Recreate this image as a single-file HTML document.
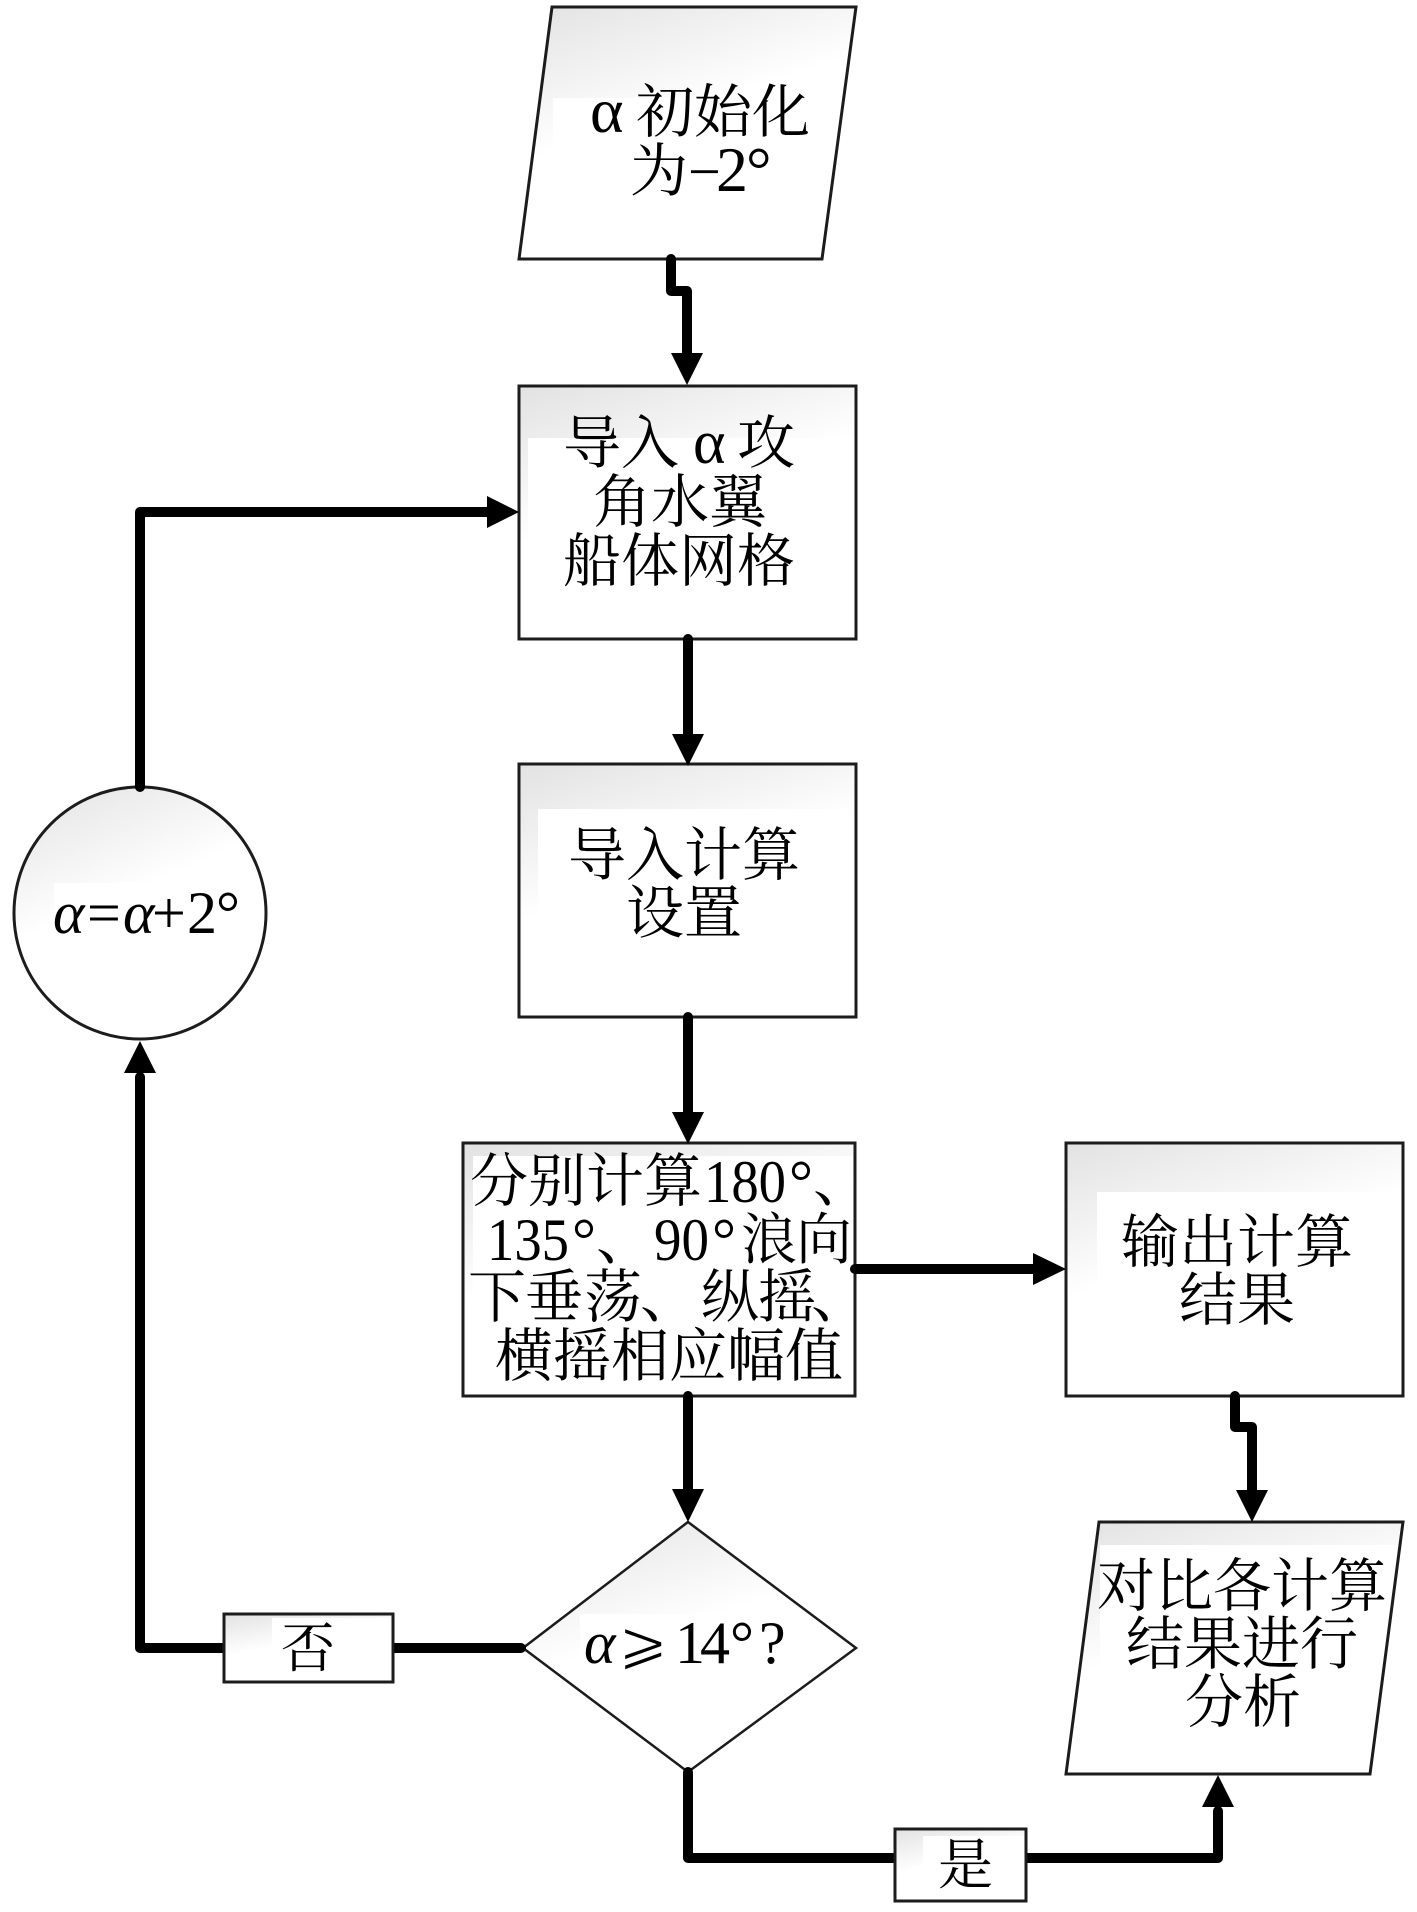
<!DOCTYPE html>
<html><head><meta charset="utf-8"><style>
html,body{margin:0;padding:0;background:#fff;width:1417px;height:1912px;overflow:hidden}
svg{display:block}
text{font-family:"Liberation Serif","Noto Serif CJK SC",serif;font-size:58px;fill:#000}
.s{fill:none;stroke:#1c1c1c;stroke-width:3}
.c{fill:none;stroke:#000;stroke-width:10;stroke-linejoin:round;stroke-linecap:round}
</style></head><body>
<svg xmlns="http://www.w3.org/2000/svg" width="1417" height="1912" viewBox="0 0 1417 1912">
<defs>
<linearGradient id="g" x1="0" y1="0" x2="0.3" y2="0.7"><stop offset="0" stop-color="#e2e2e2"/><stop offset="0.75" stop-color="#fff"/></linearGradient>
<clipPath id="p1"><polygon points="552,7 856,7 822,259 519,259"/></clipPath>
<clipPath id="p6"><polygon points="1099,1522 1403,1522 1370,1774 1066,1774"/></clipPath>
<clipPath id="ci"><circle cx="140" cy="913" r="126"/></clipPath>
<clipPath id="di"><polygon points="688,1522 856,1648 688,1772 523,1648"/></clipPath>
</defs>
<rect width="1417" height="1912" fill="#fff"/>

<!-- shapes -->
<polygon points="552,7 856,7 822,259 519,259" fill="url(#g)"/>
<rect x="553" y="98" width="300" height="68" fill="#fff" clip-path="url(#p1)"/>
<polygon class="s" points="552,7 856,7 822,259 519,259"/>

<rect x="519" y="386" width="337" height="253" fill="url(#g)"/>
<rect x="528" y="438" width="326" height="199" fill="#fff"/>
<rect class="s" x="519" y="386" width="337" height="253"/>

<rect x="519" y="764" width="337" height="253" fill="url(#g)"/>
<rect x="538" y="809" width="316" height="206" fill="#fff"/>
<rect class="s" x="519" y="764" width="337" height="253"/>

<rect x="463" y="1143" width="392" height="253" fill="url(#g)"/>
<rect x="473" y="1156" width="380" height="238" fill="#fff"/>
<rect class="s" x="463" y="1143" width="392" height="253"/>

<rect x="1066" y="1143" width="337" height="253" fill="url(#g)"/>
<rect x="1097" y="1192" width="304" height="202" fill="#fff"/>
<rect class="s" x="1066" y="1143" width="337" height="253"/>

<polygon points="1099,1522 1403,1522 1370,1774 1066,1774" fill="url(#g)"/>
<rect x="1100" y="1545" width="300" height="125" fill="#fff" clip-path="url(#p6)"/>
<polygon class="s" points="1099,1522 1403,1522 1370,1774 1066,1774"/>

<circle cx="140" cy="913" r="126" fill="url(#g)"/>
<rect x="54" y="883" width="200" height="68" fill="#fff" clip-path="url(#ci)"/>
<circle class="s" cx="140" cy="913" r="126"/>

<polygon points="688,1522 856,1648 688,1772 523,1648" fill="url(#g)"/>
<rect x="580" y="1614" width="220" height="60" fill="#fff" clip-path="url(#di)"/>
<polygon class="s" style="stroke-width:2.5" points="688,1522 856,1648 688,1772 523,1648"/>

<!-- connectors -->
<path class="c" d="M671 259V291H687V358"/>
<polygon points="671,353 703,353 687,385"/>
<path class="c" d="M688 639V738"/>
<polygon points="672,734 704,734 688,766"/>
<path class="c" d="M688 1017V1116"/>
<polygon points="672,1112 704,1112 688,1144"/>
<path class="c" d="M688 1396V1492"/>
<polygon points="672,1489 704,1489 688,1522"/>
<path class="c" d="M855 1269H1037"/>
<polygon points="1033,1253 1033,1285 1066,1269"/>
<path class="c" d="M1235 1396V1427H1252V1494"/>
<polygon points="1236,1490 1268,1490 1252,1522"/>
<path class="c" d="M140 787V512H491"/>
<polygon points="487,496 487,528 519,512"/>
<path class="c" d="M521 1648H140V1077"/>
<polygon points="124,1073 156,1073 140,1041"/>
<path class="c" d="M688 1772V1858H1218V1811"/>
<polygon points="1202,1807 1234,1807 1218,1775"/>

<!-- label boxes -->
<rect x="224" y="1614" width="169" height="68" fill="url(#g)"/>
<rect x="272" y="1618" width="119" height="62" fill="#fff"/>
<rect class="s" x="224" y="1614" width="169" height="68"/>
<rect x="895" y="1829" width="131" height="72" fill="url(#g)"/>
<rect x="923" y="1836" width="101" height="63" fill="#fff"/>
<rect class="s" x="895" y="1829" width="131" height="72"/>

<!-- text -->
<text y="132"><tspan x="590" style="font-size:64px">α</tspan><tspan x="636">初始化</tspan></text>
<text y="191"><tspan x="630">为</tspan><tspan x="688">−</tspan><tspan x="716" style="font-size:64px">2</tspan><tspan x="746" style="font-size:64px">°</tspan></text>

<text y="463"><tspan x="563">导入</tspan><tspan x="693" style="font-size:62px">α</tspan><tspan x="737">攻</tspan></text>
<text y="522" x="593">角水翼</text>
<text y="581" x="563">船体网格</text>

<text y="875" x="568">导入计算</text>
<text y="933" x="626">设置</text>

<text y="1201" x="470">分别计算</text>
<text y="1202" x="704" textLength="82" lengthAdjust="spacingAndGlyphs" style="font-size:60px">180</text>
<text y="1202" x="789" style="font-size:60px">°</text>
<text y="1201" x="813">、</text>

<text y="1260" x="487" textLength="82" lengthAdjust="spacingAndGlyphs" style="font-size:60px">135</text>
<text y="1260" x="572" style="font-size:60px">°</text>
<text y="1259" x="596">、</text>
<text y="1260" x="654" textLength="55" lengthAdjust="spacingAndGlyphs" style="font-size:60px">90</text>
<text y="1260" x="712" style="font-size:60px">°</text>
<text y="1259" style="font-size:56px"><tspan x="741">浪</tspan><tspan x="796">向</tspan></text>

<text y="1317"><tspan x="468">下</tspan><tspan x="525">垂</tspan><tspan x="584">荡</tspan><tspan x="640">、</tspan><tspan x="701">纵</tspan><tspan x="758">摇</tspan><tspan x="811">、</tspan></text>
<text y="1376" x="495">横摇相应幅值</text>

<text y="1262" x="1121">输出计算</text>
<text y="1320" x="1179">结果</text>

<text y="1606" x="1097">对比各计算</text>
<text y="1664" x="1126">结果进行</text>
<text y="1722" x="1185">分析</text>

<text y="933" style="font-size:60px"><tspan x="53" font-style="italic">α</tspan><tspan x="87">=</tspan><tspan x="123" font-style="italic">α</tspan><tspan x="152">+</tspan><tspan x="187">2</tspan><tspan x="216">°</tspan></text>

<text y="1663" style="font-size:60px"><tspan x="584" font-style="italic">α</tspan><tspan x="618" style="font-family:'DejaVu Sans',serif;stroke:#fff;stroke-width:1.5">⩾</tspan><tspan x="675">1</tspan><tspan x="700">4</tspan><tspan x="730">°</tspan><tspan x="759">?</tspan></text>

<text x="281" y="1667" style="font-size:54px">否</text>
<text x="938" y="1884" style="font-size:55px">是</text>
</svg>
</body></html>
